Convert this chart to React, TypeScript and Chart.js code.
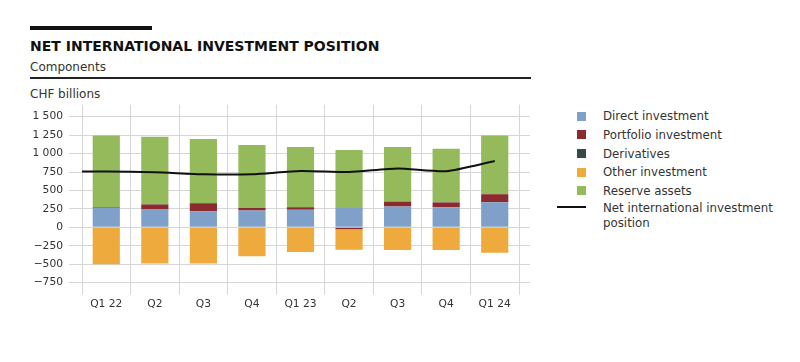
import React, { useEffect, useRef } from "react";
import { Chart, registerables } from "chart.js";

Chart.register(...registerables);

const categories = ["Q1 22", "Q2", "Q3", "Q4", "Q1 23", "Q2", "Q3", "Q4", "Q1 24"];
const directInvestment = [262, 243, 220, 230, 239, 261, 284, 274, 342];
const portfolioInvestment = [6, 67, 108, 31, 35, -25, 63, 64, 108];
const derivatives = [3, 3, 3, 3, 3, 3, 3, 3, 3];
const otherInvestment = [-500, -490, -490, -392, -333, -280, -306, -306, -344];
const reserveAssets = [975, 915, 866, 852, 812, 785, 739, 726, 793];
const netPosition = [756, 747, 720, 720, 765, 751, 797, 761, 900];
const netLeadIn = 756;
const yTicks = [-750, -500, -250, 0, 250, 500, 750, 1000, 1250, 1500];

const FONT = "'DejaVu Sans', sans-serif";
const GRID = "#d6d6d6";
const TEXT = "#333333";

const seriesStyle = [
  { label: "Direct investment", color: "#7fa1c9" },
  { label: "Portfolio investment", color: "#8c2b2f" },
  { label: "Derivatives", color: "#384a48" },
  { label: "Other investment", color: "#efaa3d" },
  { label: "Reserve assets", color: "#95ba5c" },
];
const seriesData = [directInvestment, portfolioInvestment, derivatives, otherInvestment, reserveAssets];
const lineLabel = "Net international investment position";

function fmt(v: number): string {
  const a = Math.abs(v);
  const s = a >= 1000 ? Math.floor(a / 1000) + " " + String(a % 1000).padStart(3, "0") : String(a);
  return (v < 0 ? "\u2212" : "") + s;
}

const xMin = -0.5;
const xMax = categories.length - 0.5;
const catTicks = (s: any) => { s.ticks = categories.map((_, i) => ({ value: i })); };

function ChartCanvas() {
  const ref = useRef<HTMLCanvasElement | null>(null);
  useEffect(() => {
    if (!ref.current) return;
    const barSets = seriesStyle.map((s, i) => ({
      type: "bar" as const,
      label: s.label,
      data: seriesData[i].map((v, j) => ({ x: j, y: v })),
      backgroundColor: s.color,
      borderWidth: 0,
      barPercentage: 0.56,
      categoryPercentage: 1,
      order: 1,
    }));
    const lineSet = {
      type: "line" as const,
      label: lineLabel,
      data: [{ x: xMin, y: netLeadIn }, ...netPosition.map((v, i) => ({ x: i, y: v }))],
      borderColor: "#111111",
      borderWidth: 2,
      pointRadius: 0,
      tension: 0.2,
      fill: false,
      order: 0,
    };
    const chart = new Chart(ref.current, {
      type: "bar",
      data: { datasets: [...barSets, lineSet] as any },
      options: {
        animation: false,
        responsive: false,
        events: [],
        layout: { padding: 0 },
        plugins: { legend: { display: false }, tooltip: { enabled: false }, title: { display: false } },
        scales: {
          x: {
            type: "linear",
            position: "bottom",
            stacked: true,
            offset: false,
            min: xMin,
            max: xMax,
            afterBuildTicks: catTicks,
            grid: { offset: true, color: GRID, tickLength: 12, drawTicks: true },
            border: { color: GRID },
            ticks: {
              font: { family: FONT, size: 10.7 },
              color: TEXT,
              padding: 3,
              autoSkip: false,
              maxRotation: 0,
              callback: (v: any) => categories[Math.round(Number(v))] ?? "",
            },
            afterFit: (s: any) => { s.height = 30.3; },
          },
          x2: {
            type: "linear",
            position: "top",
            offset: false,
            min: xMin,
            max: xMax,
            afterBuildTicks: catTicks,
            grid: { offset: true, color: GRID, tickLength: 12, drawOnChartArea: false },
            border: { color: GRID },
            ticks: { display: false },
            afterFit: (s: any) => { s.height = 12.7; },
          },
          y: {
            position: "left",
            stacked: true,
            min: yTicks[0],
            max: yTicks[yTicks.length - 1],
            afterBuildTicks: (s: any) => { s.ticks = yTicks.map((v) => ({ value: v })); },
            ticks: { font: { family: FONT, size: 10.7 }, color: TEXT, padding: 6, callback: (v: any) => fmt(Number(v)) },
            grid: { color: GRID, tickLength: 13 },
            border: { color: GRID },
            afterFit: (s: any) => { s.width = 82; },
          },
          y2: {
            position: "right",
            min: yTicks[0],
            max: yTicks[yTicks.length - 1],
            afterBuildTicks: (s: any) => { s.ticks = yTicks.map((v) => ({ value: v })); },
            ticks: { display: false },
            grid: { color: GRID, tickLength: 11, drawOnChartArea: false },
            border: { color: GRID },
            afterFit: (s: any) => { s.width = 11; },
          },
        },
      } as any,
    });
    return () => chart.destroy();
  }, []);
  return (
    <canvas
      ref={ref}
      width={530}
      height={209}
      style={{ position: "absolute", left: 0, top: 104, width: 530, height: 209 }}
    />
  );
}

export default function App() {
  const legendTop = 107.3;
  const rowH = 18.7;
  return (
    <div style={{ position: "absolute", left: 0, top: 0, width: 800, height: 362, background: "#fff", fontFamily: FONT, color: TEXT, overflow: "hidden" }}>
      <div style={{ position: "absolute", left: 30, top: 26, width: 122, height: 4, background: "#111" }} />
      <div style={{ position: "absolute", left: 30, top: 37.9, fontSize: 14, lineHeight: "16px", fontWeight: "bold", color: "#111", whiteSpace: "nowrap" }}>
        NET INTERNATIONAL INVESTMENT POSITION
      </div>
      <div style={{ position: "absolute", left: 30, top: 59.5, fontSize: 12, lineHeight: "14px", whiteSpace: "nowrap" }}>Components</div>
      <div style={{ position: "absolute", left: 30, top: 77, width: 501, height: 1.6, background: "#222" }} />
      <div style={{ position: "absolute", left: 30, top: 87.1, fontSize: 12, lineHeight: "14px", whiteSpace: "nowrap" }}>CHF billions</div>
      <ChartCanvas />
      {seriesStyle.map((s, i) => (
        <div key={i}>
          <div style={{ position: "absolute", left: 577, top: legendTop + i * rowH + 4.2, width: 9, height: 9, background: s.color }} />
          <div style={{ position: "absolute", left: 603, top: legendTop + i * rowH, fontSize: 11.8, lineHeight: rowH + "px", whiteSpace: "nowrap" }}>{s.label}</div>
        </div>
      ))}
      <div style={{ position: "absolute", left: 557, top: 206.3, width: 29, height: 2, background: "#111" }} />
      <div style={{ position: "absolute", left: 603, top: 201.4, width: 190, fontSize: 11.8, lineHeight: "15px" }}>{lineLabel}</div>
    </div>
  );
}
